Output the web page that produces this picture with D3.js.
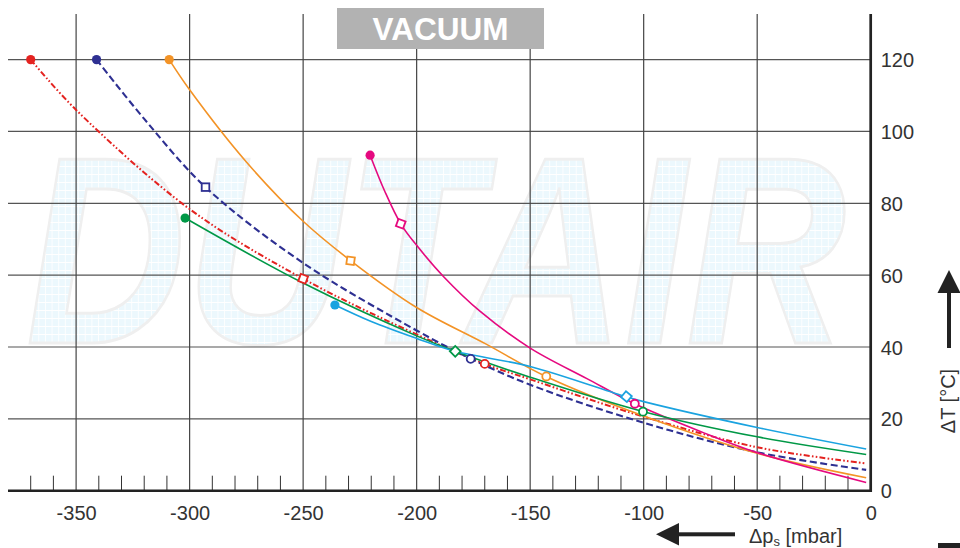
<!DOCTYPE html>
<html><head><meta charset="utf-8">
<script src="https://cdn.jsdelivr.net/npm/d3@7"></script>
<style>html,body{margin:0;padding:0;background:#fff;overflow:hidden}svg{display:block}</style>
</head><body>
<svg id="chart" width="960" height="548"></svg>
<script>
// ---- data ----
const xTicks = [-350, -300, -250, -200, -150, -100, -50, 0];
const xTickLabels = ["-350", "-300", "-250", "-200", "-150", "-100", "-50", "0"];
const yTicks = [0, 20, 40, 60, 80, 100, 120];
const yTickLabels = ["0", "20", "40", "60", "80", "100", "120"];
const minorTicks = [-370,-360,-340,-330,-320,-310,-290,-280,-270,-260,-240,-230,-220,-210,-190,-180,-170,-160,-140,-130,-120,-110,-90,-80,-70,-60,-40,-30,-20,-10];

const redX = [-370, -350, -300, -250, -200, -170, -150, -100, -50, -2];
const redY = [120, 106, 78.4, 59, 43.5, 35.3, 31, 20.6, 12.1, 7.6];
const navyX = [-341, -320, -293, -250, -200, -176, -150, -100, -50, -2];
const navyY = [120, 103.5, 84.5, 63.4, 44.6, 36.7, 29.5, 18.9, 10.7, 5.8];
const orangeX = [-309, -300, -275, -250, -229, -200, -170, -143, -100, -50, -2];
const orangeY = [120, 111.6, 91.5, 75, 64, 51, 41, 31.8, 20.8, 10.4, 3.6];
const magentaX = [-220.5, -214, -207, -200, -188, -172, -150, -125, -104, -75, -50, -2];
const magentaY = [93.4, 83.3, 74.3, 68.3, 59.5, 49.9, 39.7, 31.2, 24.2, 16.5, 10.6, 2.3];
const greenX = [-302, -250, -200, -183, -150, -100, -50, -2];
const greenY = [75.9, 57.8, 43.1, 38.8, 31.6, 22, 15, 10.1];
const cyanX = [-236, -220, -200, -183, -150, -108, -100, -50, -2];
const cyanY = [51.7, 47.1, 42.4, 38.8, 34.6, 26.2, 24.8, 17.6, 11.6];

// marker points: [x, y, shape, rotation]
const redMarks = [[-370, 120, "dot", 0], [-250, 59, "square", 20], [-170, 35.3, "circle", 0]];
const navyMarks = [[-341, 120, "dot", 0], [-293, 84.5, "square", 0], [-176.2, 36.7, "circle", 0]];
const orangeMarks = [[-309, 120, "dot", 0], [-229.1, 64, "square", 8], [-142.9, 31.8, "circle", 0]];
const magentaMarks = [[-220.5, 93.4, "dot", 0], [-207, 74.3, "square", 20], [-103.9, 24.2, "circle", 0]];
const greenMarks = [[-302, 75.9, "dot", 0], [-183, 38.8, "square", 45], [-100.3, 22, "circle", 0]];
const cyanMarks = [[-236, 51.7, "dot", 0], [-107.6, 26.2, "square", 40]];

const seriesNames = ["red", "navy", "orange", "magenta", "green", "cyan"];
const seriesColors = ["#e42320", "#2e3092", "#f39326", "#e5097f", "#009846", "#1aa3e0"];
const seriesDash = ["6,2.2,1.6,2.2,1.6,2.2", "7,3.5", null, null, null, null];
const seriesWidth = [2, 2.1, 1.6, 1.6, 1.6, 1.6];

const seriesX = [redX, navyX, orangeX, magentaX, greenX, cyanX];
const seriesY = [redY, navyY, orangeY, magentaY, greenY, cyanY];
const seriesMarks = [redMarks, navyMarks, orangeMarks, magentaMarks, greenMarks, cyanMarks];

// ---- drawing ----
const svg = d3.select("#chart");
const FONT = "'Liberation Sans', Arial, Helvetica, sans-serif";
const x = d3.scaleLinear().domain([-380, 0]).range([8, 870.7]);
const y = d3.scaleLinear().domain([0, 132.7]).range([490.7, 14]);

// watermark pattern
const defs = svg.append("defs");
const pat = defs.append("pattern").attr("id", "wm").attr("patternUnits", "userSpaceOnUse")
  .attr("width", 8).attr("height", 8);
pat.append("rect").attr("width", 8).attr("height", 8).attr("fill", "#e7f6fd");
pat.append("path").attr("d", "M7.5 0V8M0 7.5H8").attr("stroke", "#fff").attr("stroke-width", 1.1);

const wm = svg.append("text")
  .attr("x", 0).attr("y", 0)
  .attr("font-family", FONT).attr("font-weight", "bold").attr("font-style", "italic")
  .attr("font-size", 267)
  .attr("fill", "url(#wm)").attr("fill-opacity", 0.8)
  .attr("stroke", "#efefef").attr("stroke-width", 3)
  .text("DUTAIR");
const wmW = wm.node().getComputedTextLength();
wm.attr("transform", `translate(26,343) scale(${820 / wmW},1)`);

// grid
const grid = svg.append("g");
grid.selectAll("line.h").data(yTicks.filter(d => d > 0)).join("line")
  .attr("x1", x(-380)).attr("x2", x(0)).attr("y1", d => y(d)).attr("y2", d => y(d))
  .attr("stroke", "#555").attr("stroke-width", 1.2);
grid.selectAll("line.v").data(xTicks.filter(d => d < 0)).join("line")
  .attr("x1", d => x(d)).attr("x2", d => x(d)).attr("y1", y(132.7)).attr("y2", y(0))
  .attr("stroke", "#444").attr("stroke-width", 1.2);

// minor ticks
svg.append("g").selectAll("line").data(minorTicks).join("line")
  .attr("x1", d => x(d)).attr("x2", d => x(d)).attr("y1", y(0)).attr("y2", y(0) - 15)
  .attr("stroke", "#333").attr("stroke-width", 1);

// axes lines
svg.append("line").attr("x1", x(-380)).attr("x2", x(0) + 1.3).attr("y1", y(0)).attr("y2", y(0))
  .attr("stroke", "#222").attr("stroke-width", 2.6);
svg.append("line").attr("x1", x(0)).attr("x2", x(0)).attr("y1", y(132.7)).attr("y2", y(0) + 1.3)
  .attr("stroke", "#222").attr("stroke-width", 2.7);

// axis labels via d3 axes
const xAxis = d3.axisBottom(x).tickValues(xTicks).tickSize(0).tickPadding(0)
  .tickFormat((d, i) => xTickLabels[i]);
const gx = svg.append("g").attr("transform", `translate(0,${y(0)})`).call(xAxis);
gx.select(".domain").remove();
gx.selectAll("text").attr("font-family", FONT).attr("font-size", 20).attr("fill", "#333")
  .attr("dy", null).attr("y", 29.3);

const yAxis = d3.axisRight(y).tickValues(yTicks).tickSize(0).tickPadding(0)
  .tickFormat((d, i) => yTickLabels[i]);
const gy = svg.append("g").attr("transform", `translate(${x(0) + 10},0)`).call(yAxis);
gy.select(".domain").remove();
gy.selectAll("text").attr("font-family", FONT).attr("font-size", 20).attr("fill", "#333")
  .attr("dy", "0.35em");

// curves
const line = d3.line().x(d => x(d[0])).y(d => y(d[1])).curve(d3.curveCatmullRom.alpha(0.5));
seriesNames.forEach((name, i) => {
  const pts = seriesX[i].map((v, j) => [v, seriesY[i][j]]);
  const p = svg.append("path").datum(pts).attr("d", line)
    .attr("fill", "none").attr("stroke", seriesColors[i]).attr("stroke-width", seriesWidth[i]);
  if (seriesDash[i]) p.attr("stroke-dasharray", seriesDash[i]);
});

// markers
seriesNames.forEach((name, i) => {
  const g = svg.append("g");
  seriesMarks[i].forEach(m => {
    const cx = x(m[0]), cy = y(m[1]);
    if (m[2] === "dot") {
      g.append("circle").attr("cx", cx).attr("cy", cy).attr("r", 4.6).attr("fill", seriesColors[i]);
    } else if (m[2] === "circle") {
      g.append("circle").attr("cx", cx).attr("cy", cy).attr("r", 4).attr("fill", "#fff")
        .attr("stroke", seriesColors[i]).attr("stroke-width", 1.8);
    } else {
      g.append("rect").attr("x", -3.8).attr("y", -3.8).attr("width", 7.6).attr("height", 7.6)
        .attr("fill", "#fff").attr("stroke", seriesColors[i]).attr("stroke-width", 1.8)
        .attr("transform", `translate(${cx},${cy}) rotate(${m[3]})`);
    }
  });
});

// VACUUM label
svg.append("rect").attr("x", 337).attr("y", 8).attr("width", 207).attr("height", 41).attr("fill", "#b2b2b2");
svg.append("text").attr("x", 440.5).attr("y", 40).attr("text-anchor", "middle")
  .attr("font-family", FONT).attr("font-weight", "bold").attr("font-size", 31.5).attr("fill", "#fff")
  .text("VACUUM");

// right axis title + arrow
svg.append("text").attr("transform", "translate(955,401) rotate(-90)").attr("text-anchor", "middle")
  .attr("font-family", FONT).attr("font-size", 20).attr("fill", "#333").text("ΔT [°C]");
svg.append("rect").attr("x", 947).attr("y", 290).attr("width", 4).attr("height", 58).attr("fill", "#222");
svg.append("path").attr("d", "M949,270 L960.5,293 L937.5,293 Z").attr("fill", "#222");

// bottom axis title + arrow
const bt = svg.append("text").attr("x", 749).attr("y", 542.5)
  .attr("font-family", FONT).attr("font-size", 20).attr("fill", "#333");
bt.append("tspan").text("Δp");
bt.append("tspan").attr("font-size", 13).attr("dy", 3).text("s");
bt.append("tspan").attr("dy", -3).text(" [mbar]");
svg.append("rect").attr("x", 676).attr("y", 532.3).attr("width", 59).attr("height", 4).attr("fill", "#222");
svg.append("path").attr("d", "M656,534.3 L679,523 L679,545.6 Z").attr("fill", "#222");

// cut-off bar bottom right
svg.append("rect").attr("x", 938).attr("y", 543).attr("width", 22).attr("height", 5).attr("fill", "#222");
</script>
</body></html>
